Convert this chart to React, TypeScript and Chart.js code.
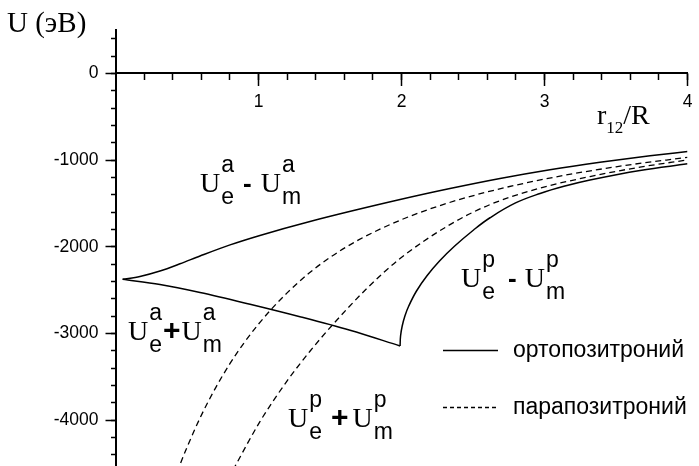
import React, { useEffect, useRef } from "react";
import { Chart, registerables } from "chart.js";

Chart.register(...registerables);

const SERIF = '"Liberation Serif", "Times New Roman", Times, serif';
const SANS = '"Liberation Sans", Arial, Helvetica, sans-serif';

// Axis ticks
const X_MAJOR_TICKS = [1, 2, 3, 4];
const X_MINOR_TICKS = [0.2, 0.4, 0.6, 0.8, 1, 1.2, 1.4, 1.6, 1.8, 2, 2.2, 2.4, 2.6, 2.8, 3, 3.2, 3.4, 3.6, 3.8, 4];
const Y_MAJOR_TICKS = [-4000, -3000, -2000, -1000, 0];
const Y_MINOR_TICKS = [-4400, -4200, -4000, -3800, -3600, -3400, -3200, -3000, -2800, -2600, -2400, -2200, -2000, -1800, -1600, -1400, -1200, -1000, -800, -600, -400, -200, 0, 200, 400];

// U_e^a - U_m^a (solid, upper branch)
const aMinusX = [0.05, 0.171, 0.311, 0.451, 0.591, 0.801, 1.01, 1.36, 1.99, 2.339, 2.689, 3.038, 3.388, 3.738, 4.0];
const aMinusY = [-2376, -2343, -2280, -2197, -2107, -1979, -1870, -1709, -1456, -1329, -1213, -1112, -1026, -951, -903];

// U_e^a + U_m^a (solid, lower branch down to the cusp)
const aPlusX = [0.05, 0.311, 0.591, 0.941, 1.29, 1.64, 1.99];
const aPlusY = [-2376, -2436, -2528, -2664, -2808, -2964, -3145];

// U_e^p - U_m^p (solid, rising from the cusp)
const pMinusX = [1.99, 1.9934, 2.0049, 2.0238, 2.0507, 2.1049, 2.1769, 2.2657, 2.372, 2.504, 2.619, 2.794, 2.969, 3.143, 3.318, 3.668, 4.0];
const pMinusY = [-3145, -3030, -2915, -2799, -2684, -2511, -2338, -2165, -1992, -1807, -1666, -1498, -1386, -1300, -1230, -1120, -1044];

// Parapositronium, left dashed curve
const para1X = [0.43, 0.45, 0.5, 0.6, 0.7, 0.8, 0.9, 1.0, 1.1, 1.2, 1.35, 1.5, 1.7, 2.0, 2.3, 2.6, 3.0, 3.5, 4.0];
const para1Y = [-4603, -4518, -4314, -3946, -3628, -3350, -3107, -2893, -2703, -2533, -2310, -2124, -1922, -1688, -1509, -1368, -1220, -1078, -969];

// Parapositronium, right dashed curve
const para2X = [0.822, 0.843, 1.01, 1.199, 1.36, 1.523, 1.759, 1.99, 2.339, 2.619, 2.969, 3.318, 3.668, 4.0];
const para2Y = [-4576, -4512, -4018, -3551, -3206, -2892, -2480, -2137, -1745, -1514, -1324, -1191, -1082, -999];

const SOLID: number[] = [];
const DASHED = [6, 4];

const toPoints = (xs: number[], ys: number[]) => xs.map((x, i) => ({ x, y: ys[i] }));

const curve = (label: string, xs: number[], ys: number[], dash: number[], smooth: "monotone" | "default" = "monotone") => ({
  label,
  data: toPoints(xs, ys),
  borderColor: "#000",
  borderWidth: dash.length ? 1.3 : 1.5,
  borderDash: dash,
  pointRadius: 0,
  fill: false,
  cubicInterpolationMode: smooth,
  tension: 0.4,
  xAxisID: "x",
  yAxisID: "y",
});

const LEGEND_ITEMS = [
  { text: "ортопозитроний", dash: SOLID },
  { text: "парапозитроний", dash: [4, 3] },
];

// Term labels: anchor in data units (left edge of the first U, baseline)
const TERMS = [
  { x: 0.591, y: -1369, sup: ["a", "a"], sub: ["e", "m"], op: "-", gaps: [9, 9] },
  { x: 0.087, y: -3076, sup: ["a", "a"], sub: ["e", "m"], op: "+", gaps: [1, 1] },
  { x: 2.416, y: -2465, sup: ["p", "p"], sub: ["e", "m"], op: "-", gaps: [13, 8] },
  { x: 1.206, y: -4079, sup: ["p", "p"], sub: ["e", "m"], op: "+", gaps: [9, 4] },
];

function drawTerm(ctx: CanvasRenderingContext2D, px: number, py: number, t: typeof TERMS[number]) {
  let cx = px;
  for (let i = 0; i < 2; i++) {
    ctx.font = `28px ${SERIF}`;
    ctx.fillText("U", cx, py);
    cx += ctx.measureText("U").width + 1;
    ctx.font = `23px ${SANS}`;
    ctx.fillText(t.sup[i], cx, py - 20);
    ctx.fillText(t.sub[i], cx, py + 12);
    cx += Math.max(ctx.measureText(t.sup[i]).width, ctx.measureText(t.sub[i]).width);
    if (i === 0) {
      cx += t.gaps[0];
      ctx.font = t.op === "+" ? `bold 30px ${SANS}` : `bold 26px ${SANS}`;
      ctx.fillText(t.op, cx, py);
      cx += ctx.measureText(t.op).width + t.gaps[1];
    }
  }
}

const annotations = {
  id: "annotations",
  afterDraw(chart: any) {
    const ctx: CanvasRenderingContext2D = chart.ctx;
    const sx = chart.scales.x;
    const sy = chart.scales.y;
    ctx.save();
    ctx.fillStyle = "#000";
    ctx.strokeStyle = "#000";
    ctx.textAlign = "left";
    ctx.textBaseline = "alphabetic";

    // y-axis title
    ctx.font = `29px ${SERIF}`;
    ctx.fillText("U (эВ)", 7, 32);

    // x-axis title r12/R
    ctx.font = `28px ${SERIF}`;
    let tx = 597;
    ctx.fillText("r", tx, 124);
    tx += ctx.measureText("r").width;
    ctx.font = `17px ${SERIF}`;
    ctx.fillText("12", tx, 133);
    tx += ctx.measureText("12").width;
    ctx.font = `28px ${SERIF}`;
    ctx.fillText("/R", tx, 124);

    // curve labels
    TERMS.forEach((t) => drawTerm(ctx, sx.getPixelForValue(t.x), sy.getPixelForValue(t.y), t));

    // legend
    const rows = [350, 407];
    LEGEND_ITEMS.forEach((item, i) => {
      const y = rows[i];
      ctx.lineWidth = 1.3;
      ctx.setLineDash(item.dash);
      ctx.beginPath();
      ctx.moveTo(443, y + 0.5);
      ctx.lineTo(498, y + 0.5);
      ctx.stroke();
      ctx.setLineDash([]);
      ctx.font = `23px ${SANS}`;
      ctx.fillText(item.text, 513, y + 7);
    });
    ctx.restore();
  },
};

const zeroPadding = (s: any) => {
  s.paddingLeft = 0;
  s.paddingRight = 0;
  s.paddingTop = 0;
  s.paddingBottom = 0;
};

const tickFont = { family: SANS, size: 17.5 };

export default function App() {
  const ref = useRef<HTMLCanvasElement>(null);

  useEffect(() => {
    const canvas = ref.current;
    if (!canvas) return;
    const chart = new Chart(canvas, {
      type: "line",
      data: {
        datasets: [
          curve("U_e^a - U_m^a", aMinusX, aMinusY, SOLID),
          curve("U_e^a + U_m^a", aPlusX, aPlusY, SOLID),
          curve("U_e^p - U_m^p", pMinusX, pMinusY, SOLID, "default"),
          curve("парапозитроний 1", para1X, para1Y, DASHED),
          curve("парапозитроний 2", para2X, para2Y, DASHED),
        ],
      },
      options: {
        responsive: false,
        animation: false,
        devicePixelRatio: 1,
        layout: { padding: { left: 0, right: 11.5, top: 30, bottom: 0 } },
        plugins: { legend: { display: false }, tooltip: { enabled: false } },
        scales: {
          x: {
            type: "linear",
            position: { y: 0 } as any,
            min: 0,
            max: 4,
            afterBuildTicks: (s: any) => {
              s.ticks = X_MAJOR_TICKS.map((value) => ({ value }));
            },
            afterFit: zeroPadding,
            grid: { display: true, drawOnChartArea: false, drawTicks: true, tickLength: 12, tickWidth: 1.5, tickColor: "#000" },
            border: { display: true, color: "#000", width: 2 },
            ticks: { color: "#000", font: tickFont, padding: 6, maxRotation: 0, callback: (v: any) => String(v) },
          },
          xMinor: {
            type: "linear",
            position: { y: 0 } as any,
            min: 0,
            max: 4,
            afterBuildTicks: (s: any) => {
              s.ticks = X_MINOR_TICKS.map((value) => ({ value }));
            },
            afterFit: zeroPadding,
            grid: { display: true, drawOnChartArea: false, drawTicks: true, tickLength: 7, tickWidth: 1.5, tickColor: "#000" },
            border: { display: false },
            ticks: { display: false },
          },
          y: {
            type: "linear",
            position: "left",
            min: -4530,
            max: 500,
            afterBuildTicks: (s: any) => {
              s.ticks = Y_MAJOR_TICKS.map((value) => ({ value }));
            },
            afterFit: (s: any) => {
              s.width = 115.5;
              zeroPadding(s);
            },
            grid: { display: true, drawOnChartArea: false, drawTicks: true, tickLength: 10, tickWidth: 1.5, tickColor: "#000" },
            border: { display: true, color: "#000", width: 2 },
            ticks: { color: "#000", font: tickFont, padding: 7, callback: (v: any) => String(v) },
          },
          yMinor: {
            type: "linear",
            position: { x: 0 } as any,
            min: -4530,
            max: 500,
            afterBuildTicks: (s: any) => {
              s.ticks = Y_MINOR_TICKS.map((value) => ({ value }));
            },
            afterFit: zeroPadding,
            grid: { display: true, drawOnChartArea: false, drawTicks: true, tickLength: 5, tickWidth: 1.5, tickColor: "#000" },
            border: { display: false },
            ticks: { display: false },
          },
        },
      } as any,
      plugins: [annotations],
    });
    return () => chart.destroy();
  }, []);

  return (
    <div style={{ position: "fixed", left: 0, top: 0, width: 699, height: 466, background: "#fff" }}>
      <canvas ref={ref} width={699} height={466} style={{ display: "block" }} />
    </div>
  );
}
